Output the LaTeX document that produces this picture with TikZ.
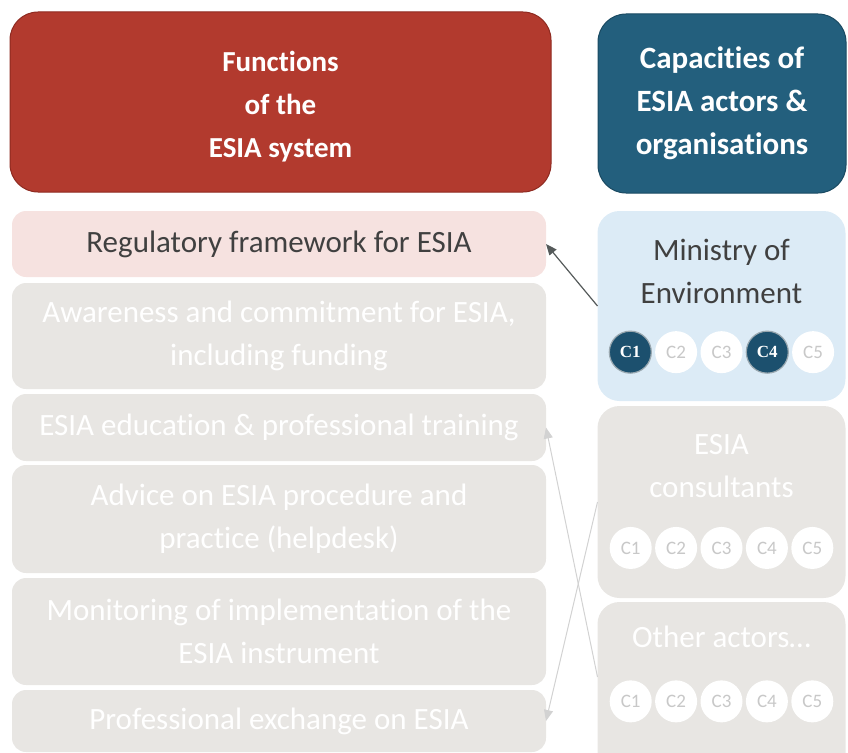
\documentclass[tikz,border=0pt]{standalone}
\usepackage{fontspec}
\setmainfont{Carlito}[RawFeature={-liga;-clig;-calt;-dlig}]
\newfontfamily\capserif{Liberation Serif}
\usepackage{tikz}
\usetikzlibrary{shapes,arrows.meta,positioning}

\definecolor{headred}{HTML}{B23A2E}
\definecolor{headredline}{HTML}{8E2A20}
\definecolor{headblue}{HTML}{235F7D}
\definecolor{headblueline}{HTML}{1A4A62}
\definecolor{regpink}{HTML}{F6E2E0}
\definecolor{fngrey}{HTML}{E8E6E3}
\definecolor{minblue}{HTML}{DCEBF6}
\definecolor{capblue}{HTML}{1C506E}
\definecolor{capring}{HTML}{9AA8B0}
\definecolor{capgrey}{HTML}{C8C8C8}
\definecolor{darktext}{HTML}{404040}
\definecolor{arrowdark}{HTML}{555A5A}
\definecolor{arrowlight}{HTML}{D2D2D2}

\begin{document}
\begin{tikzpicture}[x=1pt, y=-1pt, node distance=5pt,
    head/.style={rectangle, rounded corners=28pt, text=white, align=center, font=\bfseries\fontsize{29}{43}\selectfont, line width=1pt, inner sep=0pt, outer sep=0pt},
    fnbox/.style={rectangle, fill=fngrey, rounded corners=14pt, minimum width=534pt, text=white, align=center, font=\fontsize{31}{43}\selectfont, inner sep=0pt, outer sep=0pt},
    actor/.style={rectangle, fill=fngrey, rounded corners=22pt, minimum width=248pt, minimum height=192pt, inner sep=0pt, outer sep=0pt},
    actorname/.style={text=white, align=center, font=\fontsize{31}{43}\selectfont, inner sep=0pt},
    capa/.style={circle, fill=white, minimum size=42pt, inner sep=0pt, text=capgrey, font=\fontsize{19}{19}\selectfont},
    capaon/.style={capa, fill=capblue, draw=capring, line width=1.2pt, text=white, font=\capserif\bfseries\fontsize{17}{17}\selectfont},
    line/.style={draw, -{Triangle[length=11pt,width=9pt]}, line width=1.2pt}]

    \useasboundingbox (0,0) rectangle (848,752);
    \clip (0,0) rectangle (848,752);

    % headers
    \node [head, fill=headred, draw=headredline, minimum width=541pt, minimum height=180pt] (fun) at (280.5,102) {\rule{0pt}{30pt}Functions\\of the\\ESIA system};
    \node [head, fill=headblue, draw=headblueline, minimum width=248pt, minimum height=179pt, font=\bfseries\fontsize{31}{43}\selectfont] (capac) at (722,103.5) {Capacities of\\ESIA actors \&\\organisations};

    % functions of the system
    \node [fnbox, fill=regpink, text=darktext, minimum height=66pt] (reg) at (279,244) {Regulatory framework for ESIA};
    \node [fnbox, minimum height=106pt, below=6pt of reg] (awa) {Awareness and commitment for ESIA,\\including funding};
    \node [fnbox, minimum height=67pt, below=of awa] (edu) {ESIA education \& professional training};
    \node [fnbox, minimum height=108pt, below=4pt of edu] (adv) {Advice on ESIA procedure and\\practice (helpdesk)};
    \node [fnbox, minimum height=107pt, below=of adv] (mon) {Monitoring of implementation of the\\ESIA instrument};
    \node [fnbox, minimum height=62pt, below=of mon] (pex) {Professional exchange on ESIA};

    % actors
    \node [actor, fill=minblue, minimum height=190pt] (min) at (721.5,306) {};
    \node [actorname, text=darktext, below=28pt of min.north] (minname) {Ministry of\\Environment};
    \node [actor, below=5pt of min] (cons) {};
    \node [actorname, below=28pt of cons.north] (consname) {ESIA\\consultants};
    \node [actor, below=4pt of cons] (oth) {};
    \node [actorname, below=24pt of oth.north] (othname) {Other actors\dots};

    % capacities
    \node [capa, below=27pt of minname] (minc3) {C3};
    \node [capa, left=3pt of minc3] (minc2) {C2};
    \node [capaon, left=3pt of minc2] (minc1) {C1};
    \node [capaon, right=3pt of minc3] (minc4) {C4};
    \node [capa, right=3pt of minc4] (minc5) {C5};

    \node [capa, below=29pt of consname] (consc3) {C3};
    \node [capa, left=3pt of consc3] (consc2) {C2};
    \node [capa, left=3pt of consc2] (consc1) {C1};
    \node [capa, right=3pt of consc3] (consc4) {C4};
    \node [capa, right=3pt of consc4] (consc5) {C5};

    \node [capa, below=32pt of othname] (othc3) {C3};
    \node [capa, left=3pt of othc3] (othc2) {C2};
    \node [capa, left=3pt of othc2] (othc1) {C1};
    \node [capa, right=3pt of othc3] (othc4) {C4};
    \node [capa, right=3pt of othc4] (othc5) {C5};

    % links
    \path [line, arrowdark] (min.west) -- (reg.east);
    \path [line, arrowlight, line width=1pt] ([yshift=21pt]oth.west) -- (edu.east);
    \path [line, arrowlight, line width=1pt] (cons.west) -- (pex.east);
\end{tikzpicture}
\end{document}
